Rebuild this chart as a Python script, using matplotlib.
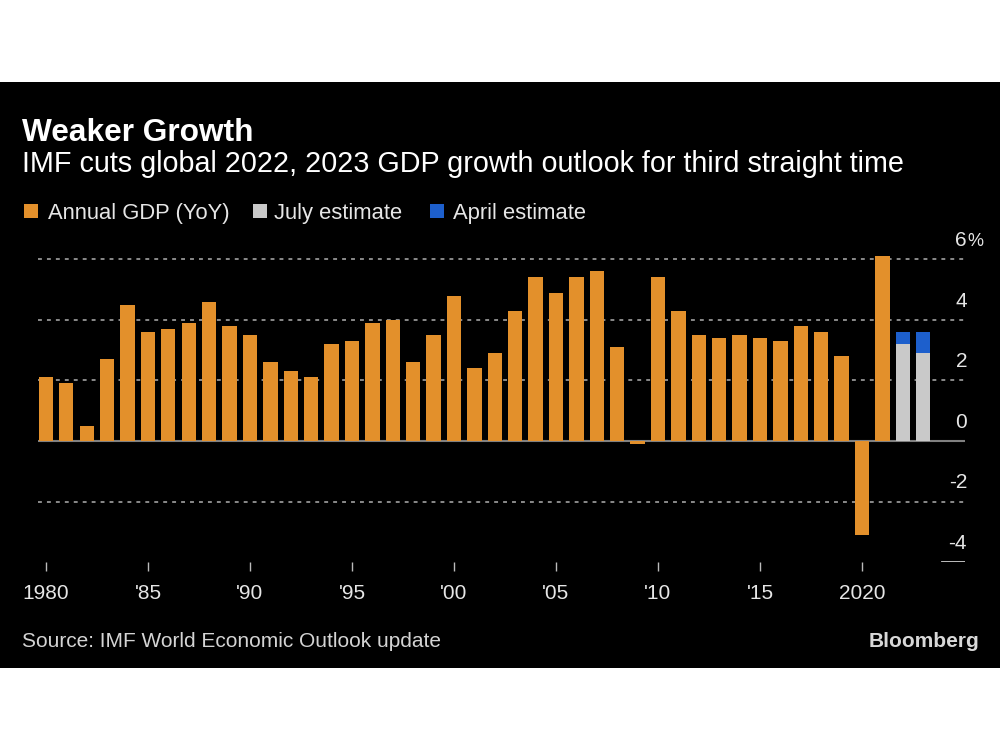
import matplotlib.pyplot as plt
import matplotlib as mpl
from matplotlib.patches import Rectangle

mpl.rcParams.update({"font.family": ["Liberation Sans", "DejaVu Sans"]})

ORANGE, GRAY, BLUE = "#E3902B", "#C9C9C9", "#1D5FCC"
TXT, GRID = "#E6E6E6", "#8A8A8A"

# data
years = list(range(1980, 2022))
gdp = [2.1, 1.9, 0.5, 2.7, 4.5, 3.6, 3.7, 3.9, 4.6, 3.8,
       3.5, 2.6, 2.3, 2.1, 3.2, 3.3, 3.9, 4.0, 2.6, 3.5,
       4.8, 2.4, 2.9, 4.3, 5.4, 4.9, 5.4, 5.6, 3.1, -0.1,
       5.4, 4.3, 3.5, 3.4, 3.5, 3.4, 3.3, 3.8, 3.6, 2.8,
       -3.1, 6.1]
est_years = [2022, 2023]
july_est = [3.2, 2.9]
april_est = [3.6, 3.6]
xtick_years = [1980, 1985, 1990, 1995, 2000, 2005, 2010, 2015, 2020]
xtick_labels = ["1980", "'85", "'90", "'95", "'00", "'05", "'10", "'15", "2020"]
ytick_vals = [6, 4, 2, 0, -2, -4]
ytick_labels = ["6", "4", "2", "0", "-2", "-4"]

W, H = 1000, 750
fig = plt.figure(figsize=(10, 7.5), dpi=100, facecolor="white")
def fx(x): return x / W
def fy(y): return 1 - y / H

# black panel
fig.add_artist(Rectangle((0, fy(668)), 1, (668 - 82) / H, transform=fig.transFigure,
                         facecolor="black", edgecolor="none", zorder=0))

ax = fig.add_axes([0.038, 0.2504, 0.927, 0.4242])
ax.set_facecolor("none")
for s in ax.spines.values():
    s.set_visible(False)
ax.set_xlim(1979.61, 2025.05)
ax.set_ylim(-4, 6.5)

for v in [6, 4, 2, -2]:
    ax.axhline(v, color=GRID, lw=1.4, ls=(0, (2.0, 2.6)), zorder=1)
ax.axhline(0, color="#808080", lw=1.5, zorder=1)
ax.axhline(-4, xmin=0.975, color="#CCCCCC", lw=1.3, zorder=1)

ax.bar(years, gdp, width=0.7, color=ORANGE, zorder=2)
ax.bar(est_years, july_est, width=0.7, color=GRAY, zorder=2)
ax.bar(est_years, [a - j for a, j in zip(april_est, july_est)], bottom=july_est,
       width=0.7, color=BLUE, zorder=2)

ax.set_xticks(xtick_years)
ax.set_xticklabels(xtick_labels, fontsize=15, color=TXT)
ax.tick_params(axis="x", length=6.5, width=1, color="#BBBBBB", pad=9)
ax.set_yticks([])

for v, lab in zip(ytick_vals, ytick_labels):
    ax.annotate(lab, xy=(1, v), xycoords=("axes fraction", "data"), xytext=(1.5, 9.5),
                textcoords="offset points", ha="right", va="baseline", fontsize=15, color=TXT,
                annotation_clip=False)
ax.annotate("%", xy=(1, 6), xycoords=("axes fraction", "data"), xytext=(1.5, 9.5),
            textcoords="offset points", ha="left", va="baseline", fontsize=13, color=TXT,
            annotation_clip=False)

# titles
fig.text(fx(22), fy(141), "Weaker Growth", fontsize=22.8, fontweight="bold", color="white", va="baseline")
fig.text(fx(22), fy(172), "IMF cuts global 2022, 2023 GDP growth outlook for third straight time",
         fontsize=20.7, color="white", va="baseline")

# legend
for x0, x1, col, lab in [(24, 48, ORANGE, "Annual GDP (YoY)"), (253, 274, GRAY, "July estimate"),
                         (430, 453, BLUE, "April estimate")]:
    fig.add_artist(Rectangle((fx(x0), fy(218)), 14 / W, 14 / H, transform=fig.transFigure,
                             facecolor=col, edgecolor="none"))
    fig.text(fx(x1), fy(219), lab, fontsize=15.8, color=TXT, va="baseline")

fig.text(fx(22), fy(647), "Source: IMF World Economic Outlook update", fontsize=15, color="#D4D4D4",
         va="baseline")
fig.text(fx(979), fy(647), "Bloomberg", fontsize=15, fontweight="bold", color="#D8D8D8",
         ha="right", va="baseline")

fig.savefig("out.png", dpi=100, facecolor="white")
